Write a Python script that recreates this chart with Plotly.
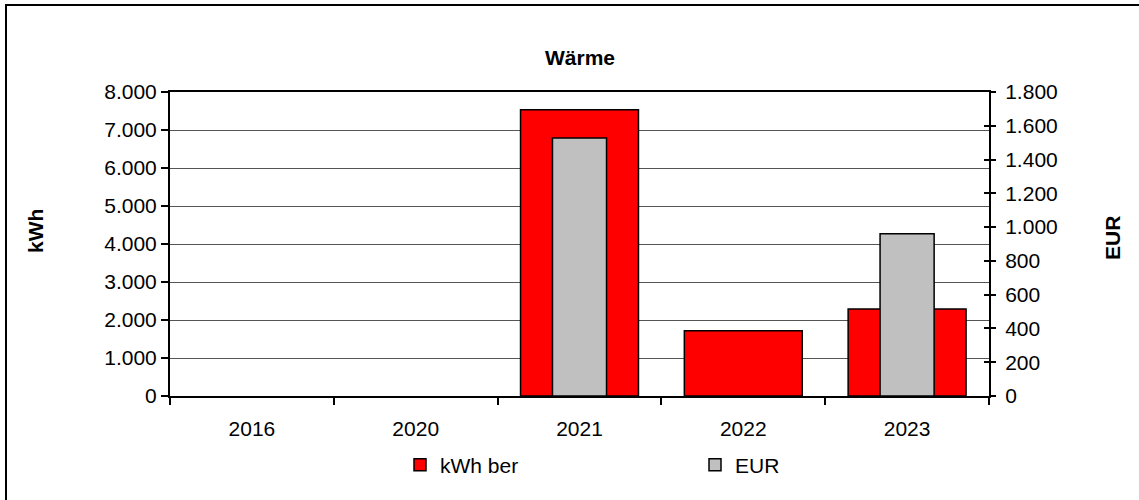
import plotly.graph_objects as go

years = ["2016", "2020", "2021", "2022", "2023"]
kwh = [None, None, 7530, 1720, 2290]
eur = [None, None, 1528, None, 961]
kwh_ticks = list(range(0, 8001, 1000))
eur_ticks = list(range(0, 1801, 200))

FONT = "Liberation Sans, Arial, sans-serif"
FS = 21
W, H = 1139, 500
L, R, T, B = 170, 989, 92, 396
pw, ph = R - L, B - T


def px(x):
    return (x - L) / pw


def py(y):
    return (B - y) / ph


fig = go.Figure()
fig.add_bar(x=years, y=kwh, name="kWh ber", yaxis="y",
            marker=dict(color="#FF0000", line=dict(color="black", width=1.5)),
            width=0.72)
fig.add_bar(x=years, y=eur, name="EUR", yaxis="y2",
            marker=dict(color="#C0C0C0", line=dict(color="black", width=1.5)),
            width=0.33)

fig.update_layout(
    width=W, height=H,
    margin=dict(l=L, r=W - R, t=T, b=H - B, autoexpand=False),
    paper_bgcolor="white", plot_bgcolor="white",
    barmode="overlay",
    separators=",.",
    font=dict(family=FONT, size=FS, color="black"),
    showlegend=True,
    legend=dict(orientation="h", x=px(400), xanchor="left", y=py(465), yanchor="middle",
                font=dict(size=FS), entrywidth=250, entrywidthmode="pixels",
                bgcolor="rgba(0,0,0,0)", itemclick=False),
    xaxis=dict(type="category", categoryorder="array", categoryarray=years,
               range=[-0.5, 4.5], showline=True, linecolor="black", linewidth=2,
               mirror=True, ticks="outside", tickson="boundaries", ticklen=7,
               tickwidth=1.5, tickcolor="black", showgrid=False,
               ticklabelstandoff=13, tickfont=dict(size=FS)),
    yaxis=dict(range=[0, 8000], tickvals=kwh_ticks, tickformat=",d",
               showline=True, linecolor="black", linewidth=2,
               ticks="outside", ticklen=7, tickwidth=1.5, tickcolor="black",
               showgrid=True, gridcolor="#555555", gridwidth=1, zeroline=False,
               tickfont=dict(size=FS)),
    yaxis2=dict(range=[0, 1800], tickvals=eur_ticks, tickformat=",d",
                overlaying="y", side="right", anchor="x",
                showline=True, linecolor="black", linewidth=2,
                ticks="outside", ticklen=5, tickwidth=1.5, tickcolor="black",
                showgrid=False, zeroline=False, ticklabelstandoff=5,
                tickfont=dict(size=FS)),
    yaxis3=dict(range=[0, 1800], tickvals=eur_ticks, overlaying="y", side="right",
                anchor="x", ticks="inside", ticklen=5, tickwidth=1.5,
                tickcolor="black", showticklabels=False, showgrid=False,
                zeroline=False, showline=False),
    shapes=[dict(type="rect", xref="paper", yref="paper",
                 x0=px(6), x1=px(1160), y0=py(5), y1=py(520),
                 line=dict(color="black", width=2), fillcolor="rgba(0,0,0,0)",
                 layer="below")],
    annotations=[
        dict(text="<b>Wärme</b>", xref="paper", yref="paper", x=0.5, y=py(57),
             xanchor="center", yanchor="middle", showarrow=False,
             font=dict(size=FS)),
        dict(text="<b>kWh</b>", xref="paper", yref="paper", x=px(35), y=py(231),
             xanchor="center", yanchor="middle", showarrow=False, textangle=-90,
             font=dict(size=FS)),
        dict(text="<b>EUR</b>", xref="paper", yref="paper", x=px(1112), y=py(238),
             xanchor="center", yanchor="middle", showarrow=False, textangle=-90,
             font=dict(size=FS)),
    ],
)

# dummy trace to activate yaxis3 ticks
fig.add_scatter(x=[years[0]], y=[None], yaxis="y3", showlegend=False, hoverinfo="skip")

fig.write_html("out.html", config={"displayModeBar": False},
               post_script="document.body.style.margin='0';document.body.style.overflow='hidden';")
